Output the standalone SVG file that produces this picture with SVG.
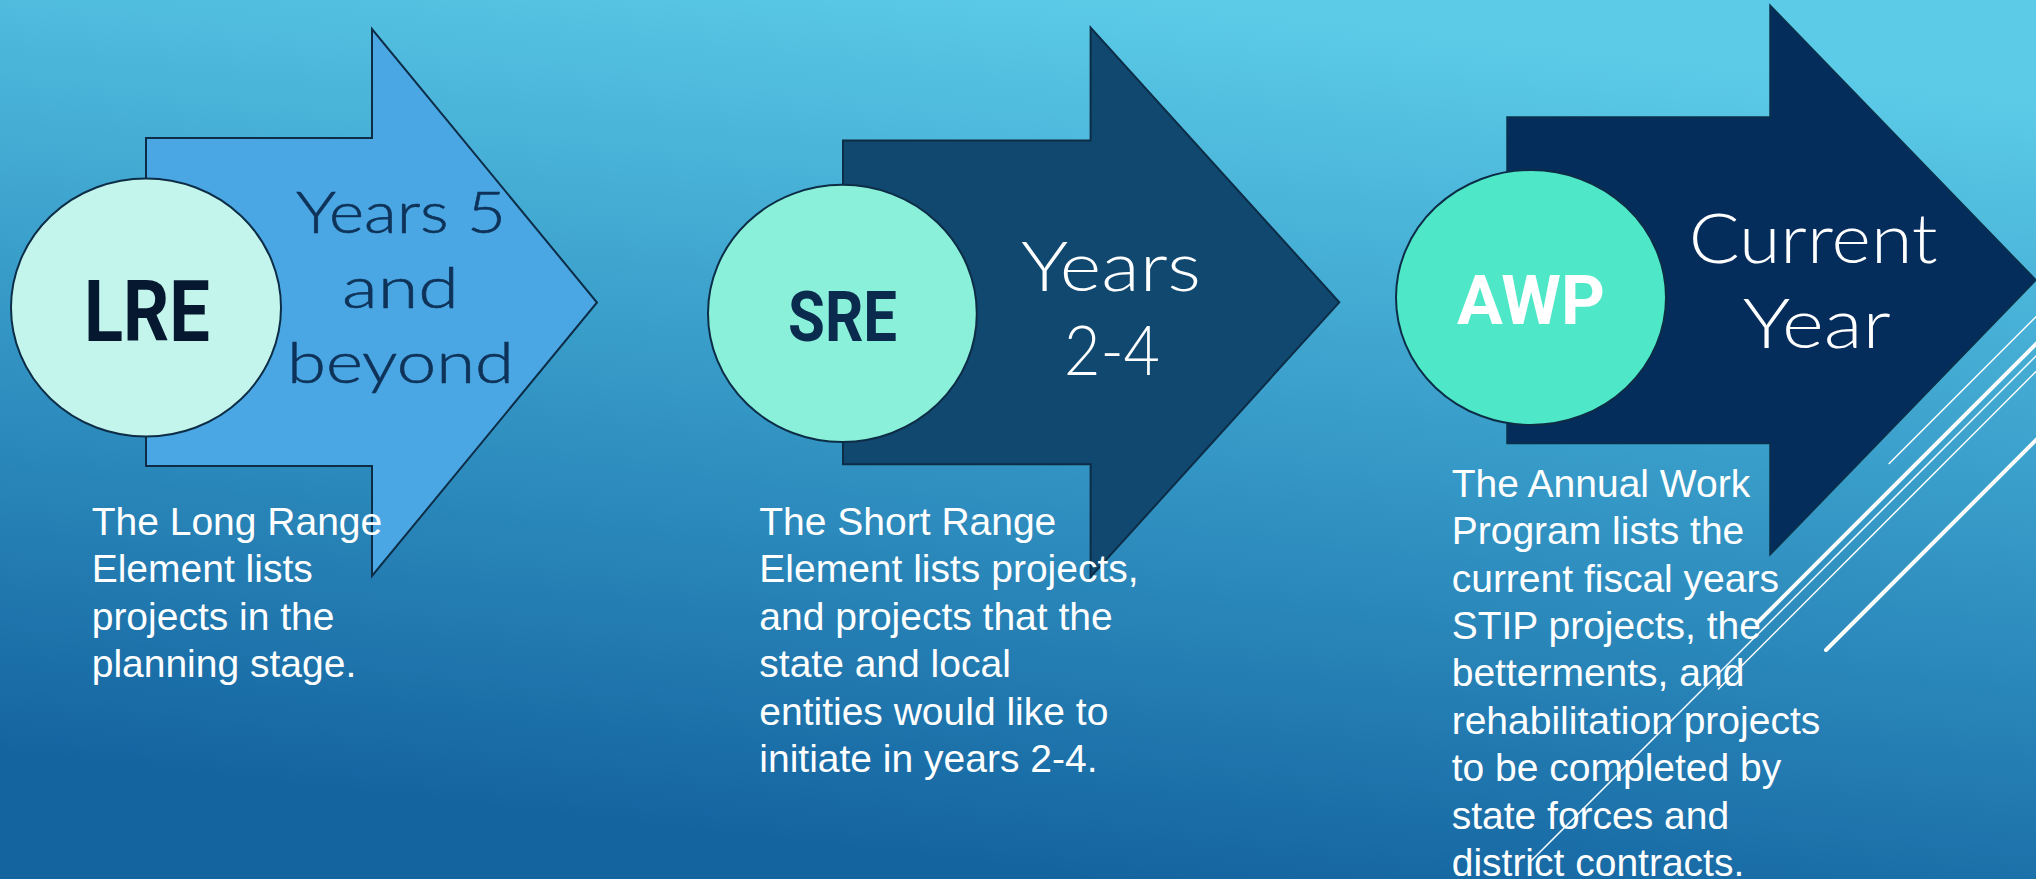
<svg xmlns="http://www.w3.org/2000/svg" width="2036" height="879" viewBox="0 0 2036 879">
  <defs>
    <linearGradient id="bg" gradientUnits="userSpaceOnUse" x1="1200" y1="0" x2="1100" y2="879">
      <stop offset="0" stop-color="#5ccbe8"/>
      <stop offset="0.5" stop-color="#3598c6"/>
      <stop offset="1" stop-color="#1464a0"/>
    </linearGradient>
    <style>
      .outline { stroke: #0d2d47; stroke-width: 2; stroke-linejoin: miter; }
      .big { font-family: Lato, "Noto Sans", "DejaVu Sans", sans-serif; font-weight: 300; text-anchor: middle; }
      .abbr { font-family: "Liberation Sans Narrow", Roboto, "Liberation Sans", sans-serif; font-weight: bold; text-anchor: middle; }
      .desc { font-family: "Liberation Sans", Arial, sans-serif; font-size: 39px; fill: #ffffff; }
      .thin { stroke: #ffffff; stroke-width: 1.5; fill: none; }
      .thick { stroke: #ffffff; stroke-width: 4; fill: none; stroke-linecap: round; }
    </style>
  </defs>

  <rect x="0" y="0" width="2036" height="879" fill="url(#bg)"/>

  <g id="lre">
    <polygon class="outline" fill="#4aa7e3" points="146,138 372,138 372,29 597,302.5 372,576 372,466 146,466"/>
    <ellipse class="outline" fill="#c3f5ec" cx="146" cy="307.5" rx="135" ry="129"/>
    <text class="abbr" x="147" y="340.6" font-size="85" fill="#06182f" textLength="126" lengthAdjust="spacingAndGlyphs">LRE</text>
    <text class="big" x="401" y="233.4" font-size="58" fill="#0e3258" stroke="#0e3258" stroke-width="0.6" textLength="210" lengthAdjust="spacingAndGlyphs">Years 5</text>
    <text class="big" x="400.5" y="308" font-size="58" fill="#0e3258" stroke="#0e3258" stroke-width="0.6" textLength="117" lengthAdjust="spacingAndGlyphs">and</text>
    <text class="big" x="400.5" y="382.7" font-size="58" fill="#0e3258" stroke="#0e3258" stroke-width="0.6" textLength="227" lengthAdjust="spacingAndGlyphs">beyond</text>
    <text class="desc" x="91.7" y="535">
      <tspan x="91.7" y="535">The Long Range</tspan>
      <tspan x="91.7" y="582.3">Element lists</tspan>
      <tspan x="91.7" y="629.6">projects in the</tspan>
      <tspan x="91.7" y="676.9">planning stage.</tspan>
    </text>
  </g>

  <g id="sre">
    <polygon class="outline" fill="#11486f" points="843,140.5 1090.6,140.5 1090.6,27.6 1339.3,302.3 1090.6,577 1090.6,464.2 843,464.2"/>
    <ellipse class="outline" fill="#8af0d9" cx="842.4" cy="313.4" rx="134.4" ry="128.6"/>
    <text class="abbr" x="842.5" y="340.6" font-size="70" fill="#0a2a4e" textLength="109" lengthAdjust="spacingAndGlyphs">SRE</text>
    <text class="big" x="1111" y="291" font-size="69" fill="#ffffff" textLength="180" lengthAdjust="spacingAndGlyphs">Years</text>
    <text class="big" x="1112" y="375" font-size="69" fill="#ffffff" textLength="96" lengthAdjust="spacingAndGlyphs">2-4</text>
    <text class="desc" x="759.3" y="535">
      <tspan x="759.3" y="535">The Short Range</tspan>
      <tspan x="759.3" y="582.4">Element lists projects,</tspan>
      <tspan x="759.3" y="629.8">and projects that the</tspan>
      <tspan x="759.3" y="677.2">state and local</tspan>
      <tspan x="759.3" y="724.6">entities would like to</tspan>
      <tspan x="759.3" y="772">initiate in years 2-4.</tspan>
    </text>
  </g>

  <g id="awp">
    <polygon fill="#052d5c" stroke="#0b3048" stroke-width="1.5" points="1507,117 1770,117 1770,5 2036,280 1770,555 1770,443.5 1507,443.5"/>
    <ellipse class="outline" fill="#4ee8c8" cx="1531" cy="297.5" rx="135" ry="127.5"/>
    <text class="abbr" x="1531" y="324" font-size="68" fill="#ffffff" textLength="148" lengthAdjust="spacingAndGlyphs">AWP</text>
    <text class="big" x="1813.2" y="263.3" font-size="68" fill="#ffffff" textLength="249" lengthAdjust="spacingAndGlyphs">Current</text>
    <text class="big" x="1816.8" y="347.7" font-size="68" fill="#ffffff" textLength="148" lengthAdjust="spacingAndGlyphs">Year</text>
    <text class="desc" x="1451.7" y="496.7">
      <tspan x="1451.7" y="496.7">The Annual Work</tspan>
      <tspan x="1451.7" y="544.1">Program lists the</tspan>
      <tspan x="1451.7" y="591.5">current fiscal years</tspan>
      <tspan x="1451.7" y="638.9">STIP projects, the</tspan>
      <tspan x="1451.7" y="686.3">betterments, and</tspan>
      <tspan x="1451.7" y="733.7">rehabilitation projects</tspan>
      <tspan x="1451.7" y="781.1">to be completed by</tspan>
      <tspan x="1451.7" y="828.5">state forces and</tspan>
      <tspan x="1451.7" y="875.9">district contracts.</tspan>
    </text>
  </g>

  <g id="decoration">
    <line class="thin" x1="1888.7" y1="464" x2="2046" y2="306.7"/>
    <line class="thick" x1="1757" y1="623" x2="2046" y2="334"/>
    <line class="thin" x1="1531" y1="861" x2="2046" y2="346"/>
    <line class="thin" x1="1718" y1="689.5" x2="2046" y2="361.5"/>
    <line class="thick" x1="1826" y1="650" x2="2046" y2="430"/>
  </g>
</svg>
